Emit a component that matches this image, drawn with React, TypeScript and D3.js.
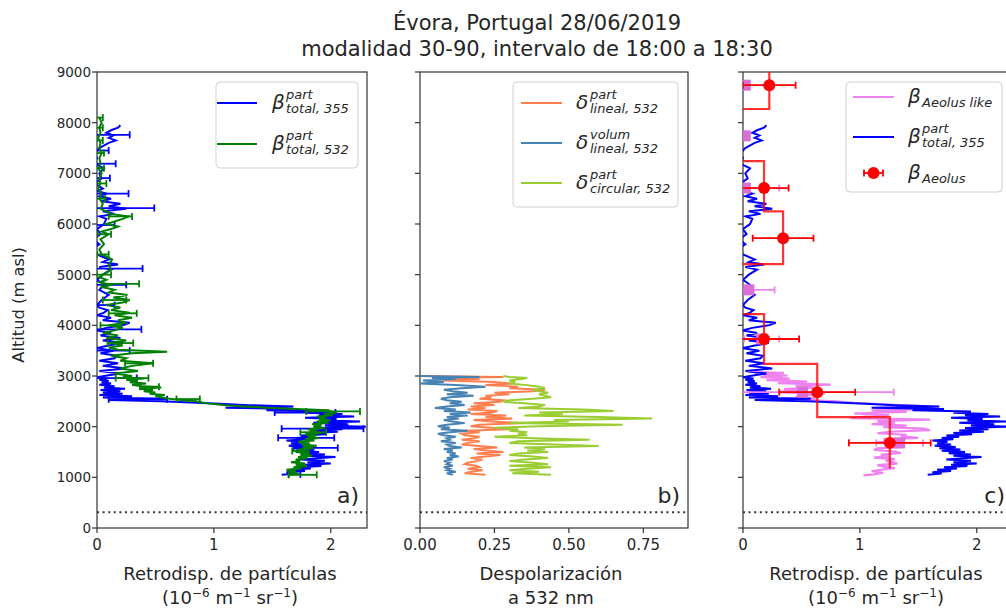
import React from "react";
import * as d3 from "d3";

// ---------- DATA ----------
const yTicks = [0, 1000, 2000, 3000, 4000, 5000, 6000, 7000, 8000, 9000];
const xTicksBeta = [0, 1, 2];
const xTicksDep = [0, 0.25, 0.5, 0.75];
const xTickLabelsDep = ["0.00", "0.25", "0.50", "0.75"];
const groundAlt = 310;

// beta total 355 (panel a and c)
const alt355 = [
  1050, 1075, 1100, 1125, 1150, 1175, 1200, 1225, 1250, 1275, 1300, 1325, 1350, 1375, 1400, 1425, 1450, 1475, 1500, 1525,
  1550, 1575, 1600, 1625, 1650, 1675, 1700, 1725, 1750, 1775, 1800, 1825, 1850, 1875, 1900, 1925, 1950, 1975, 2000, 2025,
  2050, 2075, 2100, 2125, 2150, 2175, 2200, 2225, 2250, 2275, 2300, 2325, 2350, 2375, 2400, 2425, 2450, 2475, 2500, 2525,
  2550, 2575, 2600, 2625, 2650, 2675, 2700, 2725, 2750, 2775, 2800, 2825, 2850, 2875, 2900, 2925, 2950, 2975, 3000, 3050,
  3100, 3150, 3200, 3250, 3300, 3350, 3400, 3450, 3500, 3550, 3600, 3650, 3700, 3750, 3800, 3850, 3900, 3950, 4000, 4050,
  4100, 4150, 4200, 4250, 4300, 4350, 4400, 4500, 4600, 4700, 4800, 4900, 5000, 5100, 5150, 5200, 5250, 5300, 5400, 5500,
  5600, 5700, 5800, 5900, 6000, 6100, 6150, 6200, 6250, 6300, 6350, 6400, 6450, 6500, 6550, 6600, 6650, 6700, 6800, 6900,
  7000, 7100, 7200, 7300, 7400, 7500, 7600, 7650, 7700, 7750, 7800, 7850, 7900, 7950,
];
const beta355 = [
  1.58, 1.7, 1.62, 1.78, 1.66, 1.83, 1.72, 1.92, 1.78, 2.0, 1.8, 1.95, 1.74, 1.88, 2.04, 1.8, 1.95, 1.76, 1.9, 1.7,
  1.86, 1.68, 1.82, 1.64, 1.78, 1.66, 1.75, 1.62, 1.8, 1.7, 1.85, 1.74, 1.96, 1.8, 2.06, 1.85, 2.1, 1.9, 2.3, 1.95,
  2.15, 1.85, 2.25, 1.92, 2.05, 1.78, 2.2, 1.9, 2.1, 1.8, 1.95, 1.45, 1.72, 1.1, 1.68, 1.3, 1.05, 0.8, 0.55, 0.1,
  0.58, 0.05, 0.3, 0.02, 0.22, 0.05, 0.2, 0.03, 0.24, 0.06, 0.15, 0.02, 0.12, 0.04, 0.1, 0.02, 0.09, 0.0, 0.06, 0.2,
  0.02, 0.25, 0.05, 0.18, 0.02, 0.15, 0.17, 0.03, 0.14, 0.0, 0.1, 0.22, 0.05, 0.2, 0.03, 0.12, 0.0, 0.08, 0.22, 0.28,
  0.05, 0.12, 0.0, 0.06, 0.09, 0.02, 0.0, 0.04, 0.1, 0.02, 0.06, 0.0, 0.05, 0.12, 0.02, 0.18, 0.05, 0.1, 0.0, -0.05,
  0.02, -0.03, 0.03, 0.0, 0.06, 0.08, 0.02, 0.15, 0.05, 0.25, 0.1, 0.2, 0.04, 0.12, 0.02, 0.08, 0.0, 0.05, -0.02, 0.04,
  0.02, 0.06, -0.03, 0.0, -0.02, 0.02, 0.1, 0.16, 0.1, 0.14, 0.08, 0.12, 0.18, 0.2,
];
const errAlt355 = [1060, 1580, 1780, 1960, 2280, 2540, 2960, 3500, 3921, 4400, 4800, 5120, 5980, 6315, 6600, 6905, 7190, 7450, 7760];
const errMid355 = [1.69, 1.87, 1.79, 1.93, 1.78, 0.35, 0.1, 0.08, 0.1, 0.05, 0.1, 0.12, 0.04, 0.2, 0.06, 0.02, 0.03, 0.03, 0.1];
const errHalf355 = [0.05, 0.19, 0.24, 0.35, 0.26, 0.25, 0.24, 0.2, 0.28, 0.1, 0.15, 0.27, 0.11, 0.29, 0.21, 0.09, 0.13, 0.07, 0.18];

// beta total 532 (panel a)
const alt532 = [
  1050, 1075, 1100, 1125, 1150, 1175, 1200, 1225, 1250, 1275, 1300, 1325, 1350, 1375, 1400, 1425, 1450, 1475, 1500, 1525,
  1550, 1575, 1600, 1625, 1650, 1675, 1700, 1725, 1750, 1775, 1800, 1825, 1850, 1875, 1900, 1925, 1950, 1975, 2000, 2025,
  2050, 2075, 2100, 2125, 2150, 2175, 2200, 2225, 2250, 2275, 2300, 2325, 2350, 2375, 2400, 2425, 2450, 2475, 2500, 2525,
  2550, 2575, 2600, 2625, 2650, 2675, 2700, 2725, 2750, 2775, 2800, 2825, 2850, 2875, 2900, 2925, 2950, 2975, 3000, 3050,
  3100, 3150, 3200, 3250, 3300, 3350, 3400, 3450, 3480, 3520, 3560, 3600, 3650, 3700, 3750, 3800, 3850, 3900, 3950, 4000,
  4050, 4100, 4150, 4200, 4250, 4300, 4350, 4400, 4450, 4500, 4550, 4600, 4650, 4700, 4750, 4800, 4850, 4900, 4950, 5000,
  5100, 5200, 5300, 5400, 5500, 5600, 5700, 5800, 5850, 5900, 5950, 6000, 6050, 6100, 6150, 6200, 6250, 6300, 6400, 6500,
  6600, 6700, 6800, 6900, 7000, 7100, 7200, 7300, 7400, 7500, 7600, 7700, 7800, 7900, 8000, 8100,
];
const beta532 = [
  1.66, 1.72, 1.65, 1.7, 1.62, 1.75, 1.68, 1.8, 1.7, 1.78, 1.66, 1.74, 1.7, 1.8, 1.72, 1.84, 1.74, 1.82, 1.7, 1.78,
  1.72, 1.85, 1.76, 1.88, 1.75, 1.82, 1.72, 1.86, 1.78, 1.9, 1.8, 1.87, 1.78, 1.92, 1.82, 1.88, 1.8, 1.95, 1.85, 1.92,
  1.84, 1.98, 1.88, 2.0, 1.9, 1.96, 1.88, 2.02, 1.94, 2.05, 2.0, 1.98, 1.7, 1.45, 1.25, 1.1, 0.98, 0.9, 0.85, 0.72,
  0.62, 0.55, 0.5, 0.58, 0.45, 0.5, 0.4, 0.48, 0.36, 0.55, 0.38, 0.3, 0.42, 0.28, 0.35, 0.25, 0.4, 0.22, 0.3, 0.15,
  0.35, 0.2, 0.3, 0.48, 0.2, 0.25, 0.12, 0.3, 0.6, 0.18, 0.1, 0.22, 0.12, 0.25, 0.08, 0.18, 0.05, 0.15, 0.22, 0.1,
  0.25, 0.18, 0.3, 0.15, 0.28, 0.12, 0.2, 0.08, 0.22, 0.28, 0.14, 0.26, 0.1, 0.15, 0.05, 0.12, 0.03, 0.08, 0.02, 0.05,
  0.12, 0.1, 0.13, 0.04, 0.02, 0.06, 0.03, 0.1, 0.04, 0.12, 0.18, 0.08, 0.15, 0.22, 0.27, 0.12, 0.08, 0.03, 0.05, 0.02,
  0.04, 0.01, 0.03, 0.02, 0.04, 0.01, 0.03, 0.02, 0.04, 0.02, 0.03, 0.01, 0.03, 0.02, 0.04, 0.02,
];
const errAlt532 = [1050, 1520, 1890, 2300, 2545, 2790, 2960, 3250, 3650, 4000, 4237, 4500, 4820, 5000, 5400, 5800, 6150, 6500, 6800, 7100, 7400, 7650, 7900, 8100];
const errMid532 = [1.76, 1.74, 1.85, 2.02, 0.78, 0.45, 0.3, 0.36, 0.2, 0.12, 0.22, 0.15, 0.2, 0.06, 0.05, 0.06, 0.2, 0.03, 0.03, 0.02, 0.02, 0.02, 0.02, 0.02];
const errHalf532 = [0.12, 0.07, 0.11, 0.23, 0.1, 0.08, 0.14, 0.12, 0.11, 0.09, 0.12, 0.1, 0.16, 0.06, 0.05, 0.06, 0.1, 0.04, 0.05, 0.04, 0.04, 0.03, 0.03, 0.03];

// depolarization (panel b)
const altDep = [
  3000, 2980, 2960, 2940, 2910, 2880, 2850, 2820, 2790, 2760, 2730, 2700, 2670, 2640, 2610, 2580, 2550, 2520, 2490, 2460,
  2430, 2400, 2370, 2340, 2310, 2280, 2250, 2220, 2190, 2160, 2130, 2100, 2070, 2040, 2010, 1980, 1950, 1920, 1890, 1860,
  1830, 1800, 1770, 1740, 1710, 1680, 1650, 1620, 1590, 1560, 1530, 1500, 1470, 1440, 1410, 1380, 1350, 1320, 1290, 1260,
  1230, 1200, 1170, 1140, 1110, 1080, 1050,
];
const depPartLin = [
  0.0, 0.28, 0.05, 0.2, 0.08, 0.25, 0.31, 0.22, 0.33, 0.3, 0.42, 0.38, 0.25, 0.3, 0.22, 0.24, 0.2, 0.28, 0.27, 0.18,
  0.25, 0.17, 0.22, 0.16, 0.26, 0.24, 0.17, 0.29, 0.22, 0.31, 0.18, 0.24, 0.35, 0.2, 0.17, 0.24, 0.3, 0.15, 0.2, 0.14,
  0.15, 0.2, 0.18, 0.14, 0.2, 0.16, 0.14, 0.2, 0.26, 0.18, 0.22, 0.28, 0.19, 0.27, 0.22, 0.17, 0.21, 0.19, 0.16, 0.15,
  0.19, 0.2, 0.16, 0.21, 0.17, 0.15, 0.22,
];
const depVolLin = [
  0.0, 0.2, 0.04, 0.12, 0.01, 0.08, 0.0, 0.12, 0.22, 0.14, 0.08, 0.11, 0.16, 0.09, 0.18, 0.1, 0.07, 0.09, 0.14, 0.1,
  0.15, 0.09, 0.05, 0.12, 0.08, 0.17, 0.1, 0.16, 0.09, 0.13, 0.08, 0.11, 0.15, 0.09, 0.06, 0.1, 0.07, 0.16, 0.1, 0.06,
  0.08, 0.12, 0.09, 0.1, 0.07, 0.12, 0.09, 0.1, 0.14, 0.08, 0.11, 0.09, 0.12, 0.1, 0.13, 0.09, 0.11, 0.08, 0.1, 0.09,
  0.11, 0.08, 0.1, 0.09, 0.12, 0.09, 0.11,
];
const depPartCirc = [
  0.28, 0.3, 0.36, 0.34, 0.3, 0.32, 0.3, 0.36, 0.4, 0.42, 0.38, 0.4, 0.43, 0.4, 0.42, 0.44, 0.38, 0.3, 0.28, 0.35,
  0.42, 0.4, 0.33, 0.55, 0.65, 0.4, 0.48, 0.35, 0.6, 0.78, 0.45, 0.5, 0.3, 0.68, 0.4, 0.25, 0.33, 0.3, 0.36, 0.33,
  0.36, 0.25, 0.38, 0.57, 0.33, 0.3, 0.45, 0.6, 0.35, 0.42, 0.36, 0.43, 0.33, 0.3, 0.38, 0.43, 0.35, 0.3, 0.38, 0.43,
  0.3, 0.44, 0.36, 0.3, 0.4, 0.31, 0.44,
];

// panel c: Aeolus-like continuous profile
const altLike = [
  3080, 3060, 3040, 3010, 2980, 2950, 2920, 2890, 2860, 2830, 2800, 2770, 2740, 2710, 2680, 2650, 2620, 2590, 2560, 2530,
  2500, 2470, 2440, 2410, 2380, 2350, 2320, 2290, 2260, 2230, 2200, 2170, 2140, 2110, 2080, 2050, 2020, 1990, 1960, 1930,
  1900, 1870, 1840, 1810, 1780, 1750, 1720, 1690, 1660, 1630, 1600, 1570, 1540, 1510, 1480, 1450, 1420, 1390, 1360, 1330,
  1300, 1270, 1240, 1210, 1180, 1150, 1120, 1090, 1060, 1040,
];
const betaLike = [
  0.05, 0.35, 0.1, 0.38, 0.15, 0.4, 0.2, 0.55, 0.3, 0.75, 0.45, 0.6, 0.35, 0.5, 0.3, 0.7, 0.55, 0.45, 0.62, 0.5,
  0.8, 0.95, 1.2, 1.5, 1.3, 1.65, 1.1, 1.4, 0.95, 1.25, 1.05, 0.92, 1.6, 1.15, 1.3, 1.1, 1.4, 1.2, 1.55, 1.6,
  1.25, 1.15, 1.4, 1.35, 1.5, 1.2, 1.3, 1.15, 1.25, 1.35, 1.38, 1.15, 1.12, 1.3, 1.35, 1.18, 1.25, 1.12, 1.3, 1.22,
  1.28, 1.32, 1.15, 1.2, 1.3, 1.18, 1.1, 1.2, 1.12, 1.03,
];
// Aeolus-like binned values (squares)
const binLikeAlt = [8740, 7740, 6710, 5720, 4700, 3730, 2680, 1680];
const binLikeVal = [0.02, 0.02, 0.02, -0.3, 0.05, 0.16, 0.51, 1.34];
const binLikeErr = [0.03, 0.03, 0.29, 0.1, 0.22, 0.15, 0.78, 0.2];
// Aeolus product
const aeolusTop = [9400, 8270, 7240, 6250, 5210, 4220, 3240, 2190];
const aeolusBottom = [8270, 7240, 6250, 5210, 4220, 3240, 2190, 1180];
const aeolusVal = [0.225, -0.3, 0.18, 0.343, -0.3, 0.18, 0.635, 1.256];
const aeolusAlt = [8740, 7760, 6710, 5720, 4700, 3730, 2680, 1680];
const aeolusErr = [0.225, 0.2, 0.21, 0.26, 0.2, 0.3, 0.325, 0.35];

// ---------- LAYOUT ----------
const W = 1006;
const H = 608;
const TOP = 72;
const BOTTOM = 528;
const FONT = "DejaVu Sans, Verdana, sans-serif";
const TXT = "#262626";
const LABEL_FS = 18;

const yScale = d3.scaleLinear().domain([0, 9000]).range([BOTTOM, TOP]);
const xA = d3.scaleLinear().domain([0, 2.31]).range([97, 367]);
const xB = d3.scaleLinear().domain([0, 0.9]).range([420, 688]);
const xC = d3.scaleLinear().domain([0, 2.31]).range([743, 1013]);

function profilePath(x: d3.ScaleLinear<number, number>, alts: number[], vals: number[]) {
  const pts: [number, number][] = alts.map((a, i) => [x(vals[i]), yScale(a)]);
  return d3.line()(pts) || "";
}

function ErrorBars({ x, alts, mids, halfs, color, cap = 3.5, width = 1.8 }: any) {
  return (
    <g stroke={color} strokeWidth={width} fill="none">
      {alts.map((a: number, i: number) => {
        const yy = yScale(a);
        const x0 = x(mids[i] - halfs[i]);
        const x1 = x(mids[i] + halfs[i]);
        return (
          <g key={i}>
            <line x1={x0} x2={x1} y1={yy} y2={yy} />
            <line x1={x0} x2={x0} y1={yy - cap} y2={yy + cap} />
            <line x1={x1} x2={x1} y1={yy - cap} y2={yy + cap} />
          </g>
        );
      })}
    </g>
  );
}

function Frame({ x, id, showYLabels }: any) {
  const [x0, x1] = x.range();
  return (
    <g>
      <rect x={x0} y={TOP} width={x1 - x0} height={BOTTOM - TOP} fill="none" stroke="#333" strokeWidth={1.2} />
      {yTicks.map((t) => (
        <g key={t}>
          <line x1={x0 - 5} x2={x0} y1={yScale(t)} y2={yScale(t)} stroke="#333" strokeWidth={1.2} />
          {showYLabels && (
            <text x={x0 - 6} y={yScale(t) + 5} textAnchor="end" fontSize={13.5} fill={TXT} fontFamily={FONT}>
              {t}
            </text>
          )}
        </g>
      ))}
      <clipPath id={id}>
        <rect x={x0} y={TOP} width={x1 - x0} height={BOTTOM - TOP} />
      </clipPath>
    </g>
  );
}

function XTicks({ x, ticks, labels }: any) {
  return (
    <g>
      {ticks.map((t: number, i: number) => (
        <g key={i}>
          <line x1={x(t)} x2={x(t)} y1={BOTTOM} y2={BOTTOM + 5} stroke="#333" strokeWidth={1.2} />
          <text x={x(t)} y={BOTTOM + 22} textAnchor="middle" fontSize={15} fill={TXT} fontFamily={FONT}>
            {labels ? labels[i] : String(t)}
          </text>
        </g>
      ))}
    </g>
  );
}

function MathLabel({ x, y, sym, sup, sub }: any) {
  return (
    <g fontFamily={FONT} fill={TXT} fontStyle="italic">
      <text x={x} y={y + 6} fontSize={20}>
        {sym}
      </text>
      {sup && (
        <text x={x + 14} y={y - 4} fontSize={13}>
          {sup}
        </text>
      )}
      {sub && (
        <text x={x + 14} y={y + 10} fontSize={13}>
          {sub}
        </text>
      )}
    </g>
  );
}

function UnitsLabel({ cx, y }: any) {
  return (
    <text x={cx} y={y} textAnchor="middle" fontSize={LABEL_FS} fill={TXT} fontFamily={FONT}>
      (10
      <tspan dy={-7} fontSize={12}>
        −6
      </tspan>
      <tspan dy={7}> m</tspan>
      <tspan dy={-7} fontSize={12}>
        −1
      </tspan>
      <tspan dy={7}> sr</tspan>
      <tspan dy={-7} fontSize={12}>
        −1
      </tspan>
      <tspan dy={7}>)</tspan>
    </text>
  );
}

function Legend({ x, y, w, h, children }: any) {
  return (
    <g>
      <rect x={x} y={y} width={w} height={h} rx={4} fill="white" fillOpacity={0.85} stroke="#d0d0d0" strokeWidth={1} />
      {children}
    </g>
  );
}

export default function App() {
  const groundY = yScale(groundAlt);
  const stepPts: [number, number][] = [];
  aeolusVal.forEach((v, i) => {
    stepPts.push([xC(v), yScale(aeolusTop[i])]);
    stepPts.push([xC(v), yScale(aeolusBottom[i])]);
  });
  const stepPath = d3.line()(stepPts) || "";

  return (
    <svg width={W} height={H} style={{ position: "absolute", left: 0, top: 0, background: "white" }}>
      <rect x={0} y={0} width={W} height={H} fill="white" />
      {/* Title */}
      <text x={537} y={30} textAnchor="middle" fontSize={21} fill={TXT} fontFamily={FONT}>
        Évora, Portugal 28/06/2019
      </text>
      <text x={537} y={56} textAnchor="middle" fontSize={21} fill={TXT} fontFamily={FONT}>
        modalidad 30-90, intervalo de 18:00 a 18:30
      </text>

      {/* ---------- Panel a ---------- */}
      <Frame x={xA} id="clipA" showYLabels />
      <g clipPath="url(#clipA)">
        <path d={profilePath(xA, alt355, beta355)} fill="none" stroke="blue" strokeWidth={2} />
        <ErrorBars x={xA} alts={errAlt355} mids={errMid355} halfs={errHalf355} color="blue" />
        <path d={profilePath(xA, alt532, beta532)} fill="none" stroke="green" strokeWidth={2} />
        <ErrorBars x={xA} alts={errAlt532} mids={errMid532} halfs={errHalf532} color="green" />
        <line x1={97} x2={367} y1={groundY} y2={groundY} stroke="#333" strokeWidth={2} strokeDasharray="2,3.6" />
      </g>
      <XTicks x={xA} ticks={xTicksBeta} />
      <text x={359} y={503} textAnchor="end" fontSize={22} fill={TXT} fontFamily={FONT}>
        a)
      </text>
      <Legend x={216} y={82} w={142} h={86}>
        <line x1={217} x2={257} y1={103} y2={103} stroke="blue" strokeWidth={2} />
        <MathLabel x={272} y={103} sym="β" sup="part" sub="total, 355" />
        <line x1={217} x2={257} y1={144} y2={144} stroke="green" strokeWidth={2} />
        <MathLabel x={272} y={144} sym="β" sup="part" sub="total, 532" />
      </Legend>
      <text x={230} y={580} textAnchor="middle" fontSize={LABEL_FS} fill={TXT} fontFamily={FONT}>
        Retrodisp. de partículas
      </text>
      <UnitsLabel cx={230} y={604} />
      <text transform="translate(24,305) rotate(-90)" textAnchor="middle" fontSize={16.3} fill={TXT} fontFamily={FONT}>
        Altitud (m asl)
      </text>

      {/* ---------- Panel b ---------- */}
      <Frame x={xB} id="clipB" />
      <g clipPath="url(#clipB)">
        <path d={profilePath(xB, altDep, depPartLin)} fill="none" stroke="coral" strokeWidth={2} />
        <path d={profilePath(xB, altDep, depVolLin)} fill="none" stroke="steelblue" strokeWidth={2} />
        <path d={profilePath(xB, altDep, depPartCirc)} fill="none" stroke="yellowgreen" strokeWidth={2} />
        <line x1={420} x2={688} y1={groundY} y2={groundY} stroke="#333" strokeWidth={2} strokeDasharray="2,3.6" />
      </g>
      <XTicks x={xB} ticks={xTicksDep} labels={xTickLabelsDep} />
      <text x={680} y={503} textAnchor="end" fontSize={22} fill={TXT} fontFamily={FONT}>
        b)
      </text>
      <Legend x={513} y={82} w={165} h={125}>
        <line x1={521} x2={562} y1={103} y2={103} stroke="coral" strokeWidth={2} />
        <MathLabel x={576} y={103} sym="δ" sup="part" sub="lineal, 532" />
        <line x1={521} x2={562} y1={143} y2={143} stroke="steelblue" strokeWidth={2} />
        <MathLabel x={576} y={143} sym="δ" sup="volum" sub="lineal, 532" />
        <line x1={521} x2={562} y1={183} y2={183} stroke="yellowgreen" strokeWidth={2} />
        <MathLabel x={576} y={183} sym="δ" sup="part" sub="circular, 532" />
      </Legend>
      <text x={551} y={580} textAnchor="middle" fontSize={LABEL_FS} fill={TXT} fontFamily={FONT}>
        Despolarización
      </text>
      <text x={551} y={604} textAnchor="middle" fontSize={LABEL_FS} fill={TXT} fontFamily={FONT}>
        a 532 nm
      </text>

      {/* ---------- Panel c ---------- */}
      <Frame x={xC} id="clipC" />
      <g clipPath="url(#clipC)">
        <path d={profilePath(xC, altLike, betaLike)} fill="none" stroke="violet" strokeWidth={2.2} />
        <path d={profilePath(xC, alt355, beta355)} fill="none" stroke="blue" strokeWidth={2} />
        <ErrorBars x={xC} alts={binLikeAlt} mids={binLikeVal} halfs={binLikeErr} color="violet" />
        {binLikeAlt.map((a, i) => (
          <rect key={i} x={xC(binLikeVal[i]) - 5.5} y={yScale(a) - 5.5} width={11} height={11} fill="orchid" />
        ))}
        <path d={stepPath} fill="none" stroke="red" strokeOpacity={0.8} strokeWidth={2.2} />
        <ErrorBars x={xC} alts={aeolusAlt} mids={aeolusVal} halfs={aeolusErr} color="red" width={1.8} />
        {aeolusAlt.map((a, i) => (
          <circle key={i} cx={xC(aeolusVal[i])} cy={yScale(a)} r={6} fill="red" />
        ))}
        <line x1={743} x2={1013} y1={groundY} y2={groundY} stroke="#333" strokeWidth={2} strokeDasharray="2,3.6" />
      </g>
      <XTicks x={xC} ticks={xTicksBeta} />
      <text x={1005} y={503} textAnchor="end" fontSize={22} fill={TXT} fontFamily={FONT}>
        c)
      </text>
      <Legend x={846} y={82} w={156} h={110}>
        <line x1={853} x2={894} y1={97} y2={97} stroke="violet" strokeWidth={2} />
        <MathLabel x={908} y={97} sym="β" sub="Aeolus like" />
        <line x1={853} x2={894} y1={137} y2={137} stroke="blue" strokeWidth={2} />
        <MathLabel x={908} y={137} sym="β" sup="part" sub="total, 355" />
        <line x1={864} x2={883} y1={173} y2={173} stroke="red" strokeWidth={1.8} />
        <line x1={864} x2={864} y1={169.5} y2={176.5} stroke="red" strokeWidth={1.8} />
        <line x1={883} x2={883} y1={169.5} y2={176.5} stroke="red" strokeWidth={1.8} />
        <circle cx={873.5} cy={173} r={6} fill="red" />
        <MathLabel x={908} y={173} sym="β" sub="Aeolus" />
      </Legend>
      <text x={876} y={580} textAnchor="middle" fontSize={LABEL_FS} fill={TXT} fontFamily={FONT}>
        Retrodisp. de partículas
      </text>
      <UnitsLabel cx={876} y={604} />
    </svg>
  );
}
